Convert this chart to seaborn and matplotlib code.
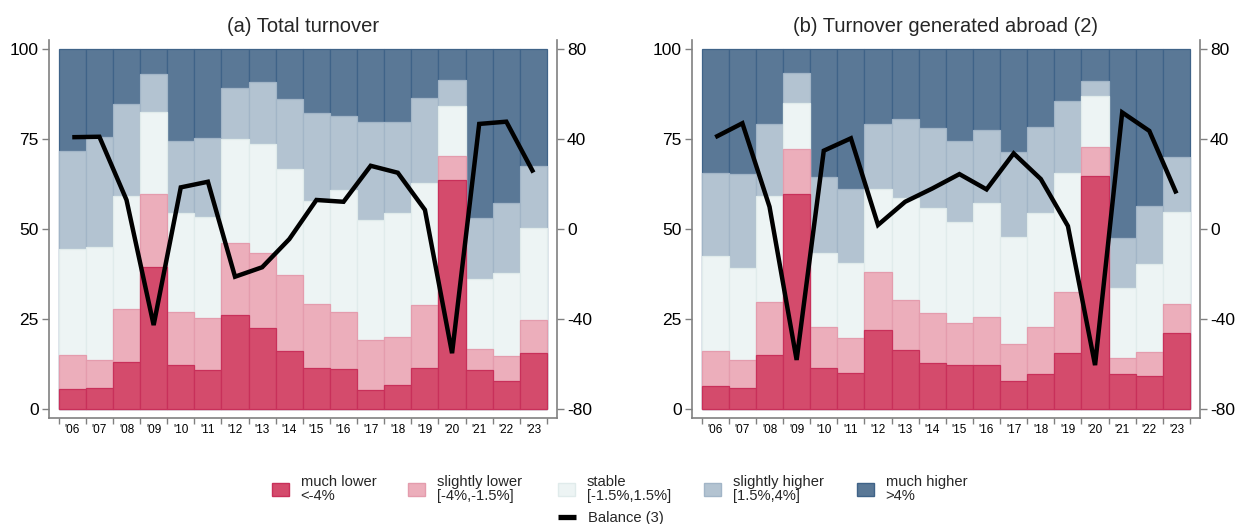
import numpy as np
import matplotlib
matplotlib.use("Agg")
import matplotlib.pyplot as plt
import matplotlib.patches as mpatches
from matplotlib.lines import Line2D
import seaborn as sns

# ---------------- data ----------------
years = ["'06", "'07", "'08", "'09", "'10", "'11", "'12", "'13", "'14",
         "'15", "'16", "'17", "'18", "'19", "'20", "'21", "'22", "'23"]

categories = ["much lower\n<-4%", "slightly lower\n[-4%,-1.5%]", "stable\n[-1.5%,1.5%]",
              "slightly higher\n[1.5%,4%]", "much higher\n>4%"]
balance_label = "Balance (3)"

titles = ["(a) Total turnover", "(b) Turnover generated abroad (2)"]

# Panel (a): shares (%) per category
a_much_lower = [5.5, 5.8, 13.1, 39.4, 12.3, 10.7, 26.1, 22.4, 16.1, 11.3, 11.1, 5.3, 6.6, 11.3, 63.6, 10.7, 7.9, 15.6]
a_slightly_lower = [9.4, 7.8, 14.7, 20.3, 14.6, 14.7, 20.0, 20.8, 21.1, 17.9, 15.8, 13.9, 13.5, 17.6, 6.8, 6.0, 6.8, 9.1]
a_stable = [29.5, 31.5, 31.4, 22.9, 27.5, 27.9, 28.9, 30.5, 29.5, 28.5, 33.9, 33.2, 34.4, 33.8, 13.9, 19.3, 23.0, 25.7]
a_slightly_higher = [27.2, 30.5, 25.6, 10.5, 20.1, 22.1, 14.1, 17.2, 19.4, 24.5, 20.6, 27.4, 25.3, 23.6, 7.1, 17.1, 19.5, 17.1]
a_much_higher = [28.4, 24.4, 15.2, 6.9, 25.5, 24.6, 10.9, 9.1, 13.9, 17.8, 18.6, 20.2, 20.2, 13.7, 8.6, 46.9, 42.8, 32.5]
a_balance = [40.8, 41.0, 12.9, -42.7, 18.5, 21.0, -21.2, -17.0, -4.5, 12.9, 12.1, 28.1, 25.0, 8.5, -55.2, 46.7, 47.7, 25.1]

# Panel (b): shares (%) per category
b_much_lower = [6.4, 5.8, 15.0, 59.7, 11.5, 9.9, 21.9, 16.4, 12.7, 12.2, 12.2, 7.9, 9.6, 15.5, 64.7, 9.6, 9.3, 21.2]
b_slightly_lower = [9.7, 7.7, 14.6, 12.5, 11.4, 9.7, 16.2, 13.9, 13.9, 11.6, 13.4, 10.2, 13.3, 17.1, 8.0, 4.5, 6.5, 7.9]
b_stable = [26.4, 25.8, 29.6, 12.8, 20.3, 20.9, 22.9, 28.4, 29.1, 28.2, 31.5, 29.8, 31.5, 32.9, 14.2, 19.6, 24.5, 25.5]
b_slightly_higher = [23.0, 25.9, 20.1, 8.2, 21.3, 20.6, 18.2, 21.8, 22.4, 22.4, 20.4, 23.6, 23.8, 20.1, 4.2, 13.7, 16.1, 15.4]
b_much_higher = [34.5, 34.8, 20.7, 6.8, 35.5, 38.9, 20.8, 19.5, 21.9, 25.6, 22.5, 28.5, 21.8, 14.4, 8.9, 52.6, 43.6, 30.0]
b_balance = [40.8, 47.0, 9.9, -58.2, 34.8, 40.3, 1.8, 12.1, 18.0, 24.4, 17.6, 33.6, 22.2, 1.3, -60.5, 51.8, 43.6, 15.8]

left_ticks = [0, 25, 50, 75, 100]
right_ticks = [-80, -40, 0, 40, 80]

# ---------------- style ----------------
fill_colors = ["#D44B6C", "#ECAEBB", "#EDF4F4", "#B3C3D1", "#5A7896"]
edge_colors = ["#C8305A", "#E49CAD", "#E0EBEB", "#A2B5C7", "#3F6388"]
spine_col = "#808080"

sns.set_style("white")
plt.rcParams["font.family"] = ["Liberation Sans", "DejaVu Sans"]

fig = plt.figure(figsize=(12.36, 5.24), dpi=100)
W, H = 1236.0, 524.0

panel_left_px = [49.3, 692.3]
ax_w = 507.4 / W
ax_b = (H - 418) / H
ax_h = 378 / H

panels = [
    (a_much_lower, a_slightly_lower, a_stable, a_slightly_higher, a_much_higher, a_balance),
    (b_much_lower, b_slightly_lower, b_stable, b_slightly_higher, b_much_higher, b_balance),
]

n = len(years)
for pi, data in enumerate(panels):
    shares = np.array(data[:5])
    bal = data[5]
    cum = np.cumsum(shares, axis=0)
    ax = fig.add_axes([panel_left_px[pi] / W, ax_b, ax_w, ax_h])
    # draw from top segment down so lower segments sit on top
    for k in range(4, -1, -1):
        sns.barplot(x=years, y=cum[k], color=fill_colors[k], edgecolor=edge_colors[k],
                    linewidth=0.9, width=1.0, saturation=1, errorbar=None, ax=ax)
    ax.set_xlim(-0.846, n - 1 + 0.857)
    ax.set_ylim(-2.5, 102.5)
    ax.set_yticks(left_ticks)
    ax.set_yticklabels([str(t) for t in left_ticks])
    ax.set_xticks(np.arange(n))
    ax.set_xticklabels(years)
    ax.set_xticks(np.arange(n + 1) - 0.5, minor=True)
    ax.tick_params(axis="x", which="major", length=0, pad=4.5, labelsize=8.5, colors="black")
    ax.tick_params(axis="x", which="minor", length=4, width=1, color=spine_col, bottom=True)
    ax.tick_params(axis="y", which="major", length=5, width=1, color=spine_col, pad=2.5,
                   labelsize=12.5, labelcolor="black", left=True)
    ax.set_xlabel("")
    ax.set_ylabel("")
    for s in ["top", "right"]:
        ax.spines[s].set_visible(False)
    for s in ["left", "bottom"]:
        ax.spines[s].set_color(spine_col)
        ax.spines[s].set_linewidth(1.2)
    ax.set_title(titles[pi], fontsize=14.5, pad=6)

    ax2 = ax.twinx()
    sns.lineplot(x=np.arange(n), y=bal, color="black", linewidth=3.2, ax=ax2,
                 solid_joinstyle="miter", solid_capstyle="butt")
    ax2.set_ylim(-84, 84)
    ax2.set_yticks(right_ticks)
    ax2.set_yticklabels([str(t) for t in right_ticks])
    ax2.tick_params(axis="y", which="major", length=5, width=1, color=spine_col, pad=2.5,
                    labelsize=12.5, labelcolor="black", right=True)
    ax2.set_xlabel("")
    ax2.set_ylabel("")
    for s in ["top", "left", "bottom"]:
        ax2.spines[s].set_visible(False)
    ax2.spines["right"].set_color(spine_col)
    ax2.spines["right"].set_linewidth(1.2)
    ax2.set_xlim(ax.get_xlim())

# ---------------- legend ----------------
fs = 10.6
leg_x_px = [272, 408, 558, 704, 857]
for k in range(5):
    h = mpatches.Patch(facecolor=fill_colors[k], edgecolor=edge_colors[k], linewidth=1.0)
    leg = fig.legend(handles=[h], labels=[categories[k]], loc="center left",
                     bbox_to_anchor=(leg_x_px[k] / W, 1 - 489 / H), frameon=False,
                     borderpad=0, borderaxespad=0, handlelength=1.15, handleheight=1.0,
                     handletextpad=0.8, fontsize=fs)
    for t in leg.get_texts():
        t.set_linespacing(1.0)

hl = Line2D([], [], color="black", linewidth=3.8, solid_capstyle="butt")
fig.legend(handles=[hl], labels=[balance_label], loc="center left",
           bbox_to_anchor=(558 / W, 1 - 518 / H), frameon=False, borderpad=0,
           borderaxespad=0, handlelength=1.25, handletextpad=0.8, fontsize=fs)

fig.savefig("out.png", dpi=100)
